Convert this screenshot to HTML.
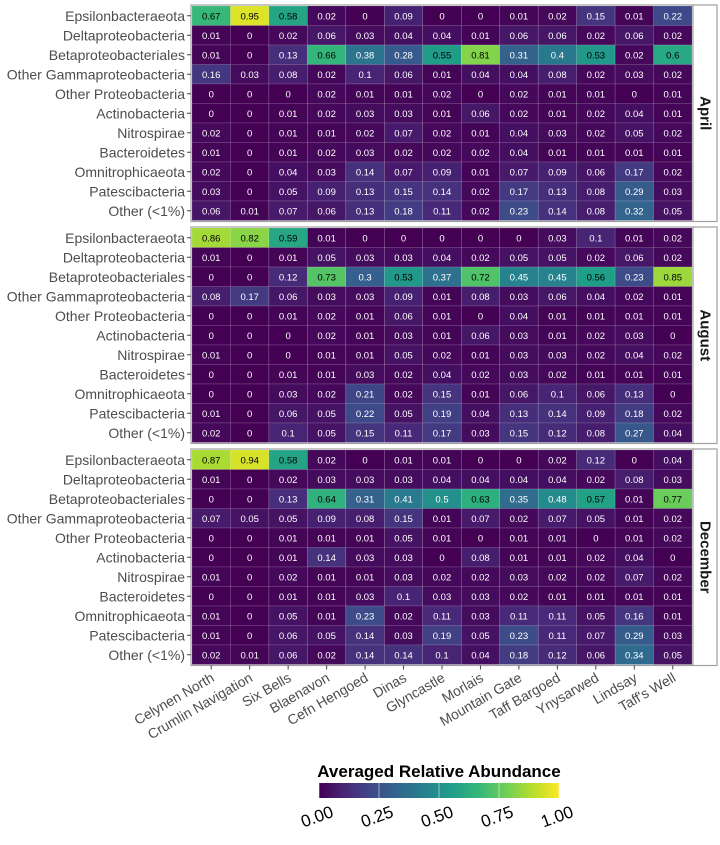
<!DOCTYPE html>
<html><head><meta charset="utf-8">
<style>
body{margin:0;background:#fff;width:720px;height:840px;overflow:hidden;font-family:"Liberation Sans",sans-serif}
</style></head>
<body>
<svg id="chart" width="720" height="840" xmlns="http://www.w3.org/2000/svg" font-family="Liberation Sans, sans-serif"></svg>
<script>
const sites=["Celynen North","Crumlin Navigation","Six Bells","Blaenavon","Cefn Hengoed","Dinas","Glyncastle","Morlais","Mountain Gate","Taff Bargoed","Ynysarwed","Lindsay","Taff's Well"];
const taxa=["Epsilonbacteraeota","Deltaproteobacteria","Betaproteobacteriales","Other Gammaproteobacteria","Other Proteobacteria","Actinobacteria","Nitrospirae","Bacteroidetes","Omnitrophicaeota","Patescibacteria","Other (<1%)"];
const months=["April","August","December"];
const aprilValues=[
[0.67,0.95,0.58,0.02,0,0.09,0,0,0.01,0.02,0.15,0.01,0.22],
[0.01,0,0.02,0.06,0.03,0.04,0.04,0.01,0.06,0.06,0.02,0.06,0.02],
[0.01,0,0.13,0.66,0.38,0.28,0.55,0.81,0.31,0.4,0.53,0.02,0.6],
[0.16,0.03,0.08,0.02,0.1,0.06,0.01,0.04,0.04,0.08,0.02,0.03,0.02],
[0,0,0,0.02,0.01,0.01,0.02,0,0.02,0.01,0.01,0,0.01],
[0,0,0.01,0.02,0.03,0.03,0.01,0.06,0.02,0.01,0.02,0.04,0.01],
[0.02,0,0.01,0.01,0.02,0.07,0.02,0.01,0.04,0.03,0.02,0.05,0.02],
[0.01,0,0.01,0.02,0.03,0.02,0.02,0.02,0.04,0.01,0.01,0.01,0.01],
[0.02,0,0.04,0.03,0.14,0.07,0.09,0.01,0.07,0.09,0.06,0.17,0.02],
[0.03,0,0.05,0.09,0.13,0.15,0.14,0.02,0.17,0.13,0.08,0.29,0.03],
[0.06,0.01,0.07,0.06,0.13,0.18,0.11,0.02,0.23,0.14,0.08,0.32,0.05]];
const augustValues=[
[0.86,0.82,0.59,0.01,0,0,0,0,0,0.03,0.1,0.01,0.02],
[0.01,0,0.01,0.05,0.03,0.03,0.04,0.02,0.05,0.05,0.02,0.06,0.02],
[0,0,0.12,0.73,0.3,0.53,0.37,0.72,0.45,0.45,0.56,0.23,0.85],
[0.08,0.17,0.06,0.03,0.03,0.09,0.01,0.08,0.03,0.06,0.04,0.02,0.01],
[0,0,0.01,0.02,0.01,0.06,0.01,0,0.04,0.01,0.01,0.01,0.01],
[0,0,0,0.02,0.01,0.03,0.01,0.06,0.03,0.01,0.02,0.03,0],
[0.01,0,0,0.01,0.01,0.05,0.02,0.01,0.03,0.03,0.02,0.04,0.02],
[0,0,0.01,0.01,0.03,0.02,0.04,0.02,0.03,0.02,0.01,0.01,0.01],
[0,0,0.03,0.02,0.21,0.02,0.15,0.01,0.06,0.1,0.06,0.13,0],
[0.01,0,0.06,0.05,0.22,0.05,0.19,0.04,0.13,0.14,0.09,0.18,0.02],
[0.02,0,0.1,0.05,0.15,0.11,0.17,0.03,0.15,0.12,0.08,0.27,0.04]];
const decemberValues=[
[0.87,0.94,0.58,0.02,0,0.01,0.01,0,0,0.02,0.12,0,0.04],
[0.01,0,0.02,0.03,0.03,0.03,0.04,0.04,0.04,0.04,0.02,0.08,0.03],
[0,0,0.13,0.64,0.31,0.41,0.5,0.63,0.35,0.48,0.57,0.01,0.77],
[0.07,0.05,0.05,0.09,0.08,0.15,0.01,0.07,0.02,0.07,0.05,0.01,0.02],
[0,0,0.01,0.01,0.01,0.05,0.01,0,0.01,0.01,0,0.01,0.02],
[0,0,0.01,0.14,0.03,0.03,0,0.08,0.01,0.01,0.02,0.04,0],
[0.01,0,0.02,0.01,0.01,0.03,0.02,0.02,0.03,0.02,0.02,0.07,0.02],
[0,0,0.01,0.01,0.03,0.1,0.03,0.03,0.02,0.01,0.01,0.01,0.01],
[0.01,0,0.05,0.01,0.23,0.02,0.11,0.03,0.11,0.11,0.05,0.16,0.01],
[0.01,0,0.06,0.05,0.14,0.03,0.19,0.05,0.23,0.11,0.07,0.29,0.03],
[0.02,0.01,0.06,0.02,0.14,0.14,0.1,0.04,0.18,0.12,0.06,0.34,0.05]];
const legendTicks=[0,0.25,0.5,0.75,1];
const legendTickLabels=["0.00","0.25","0.50","0.75","1.00"];

const NS="http://www.w3.org/2000/svg";
const svg=document.getElementById('chart');
function mk(tag,attrs,parent){const e=document.createElementNS(NS,tag);for(const k in attrs)e.setAttribute(k,attrs[k]);(parent||svg).appendChild(e);return e;}
const vir=["#440154","#482878","#3e4a89","#31688e","#26828e","#1f9e89","#35b779","#6ece58","#b5de2b","#fde725"];
function hex(h){return [1,3,5].map(i=>parseInt(h.substr(i,2),16));}
function viridis(t){t=Math.max(0,Math.min(1,t));const p=t*(vir.length-1);const i=Math.min(Math.floor(p),vir.length-2);const f=p-i;const a=hex(vir[i]),b=hex(vir[i+1]);return `rgb(${a.map((v,k)=>Math.round(v+(b[k]-v)*f)).join(',')})`;}

const plotL=192,plotR=692,colW=(plotR-plotL)/sites.length,rowH=19.5;
const panelTops=[6,228,450];
function xScale(i){return plotL+i*colW;}
function yScale(p,r){return panelTops[p]+r*rowH;}
const allData=[aprilValues,augustValues,decemberValues];

allData.forEach((data,p)=>{
  const g=mk('g',{});
  
  
  const top=panelTops[p],h=rowH*taxa.length;
  data.forEach((row,r)=>row.forEach((v,c)=>{
    const cell=mk('rect',{x:xScale(c),y:yScale(p,r),width:colW,height:rowH,fill:viridis(v),stroke:'rgba(255,255,255,0.25)','stroke-width':0.5},g);
    
    
    const t=mk('text',{x:xScale(c)+colW/2,y:yScale(p,r)+rowH/2+3.5,'text-anchor':'middle','font-size':9.5,fill:v>0.51?'#000':'#fff'},g);
    t.textContent=String(v);
    
    
  }));
  mk('rect',{x:plotL-1,y:top-1,width:plotR-plotL+2,height:h+2,fill:'none',stroke:'#a0a0a0','stroke-width':1.2},g);
  const strip=mk('rect',{x:plotR+1,y:top-1,width:24,height:h+2,fill:'#fff',stroke:'#a0a0a0','stroke-width':1.2},g);
  
  
  const st=mk('text',{x:plotR+13,y:top+h/2,'text-anchor':'middle','font-size':15,'font-weight':'bold',fill:'#1a1a1a',transform:`rotate(90 ${plotR+13} ${top+h/2})`,'dominant-baseline':'central'},g);
  st.textContent=months[p];
  
  
  taxa.forEach((tx,r)=>{
    const y=yScale(p,r)+rowH/2;
    mk('line',{x1:plotL-5,x2:plotL-1,y1:y,y2:y,stroke:'#444','stroke-width':1},g);
    const lt=mk('text',{x:plotL-7,y:y+5,'text-anchor':'end','font-size':14,fill:'#4d4d4d'},g);
    lt.textContent=tx;
    
    
  });
});
const lastBottom=panelTops[2]+rowH*taxa.length;
sites.forEach((s,c)=>{
  const x=xScale(c)+colW/2;
  mk('line',{x1:x,x2:x,y1:lastBottom+1,y2:lastBottom+5,stroke:'#444','stroke-width':1});
  const t=mk('text',{x:x+4,y:lastBottom+16,'text-anchor':'end','font-size':14,fill:'#4d4d4d',transform:`rotate(-30 ${x+4} ${lastBottom+16})`});
  t.textContent=s;
  
  
});
// legend
const lg=mk('g',{});


const defs=mk('defs',{});
const grad=mk('linearGradient',{id:'vg',x1:0,x2:1,y1:0,y2:0},defs);
vir.forEach((c,i)=>mk('stop',{offset:i/(vir.length-1),'stop-color':c},grad));
const lt=mk('text',{x:439,y:777,'text-anchor':'middle','font-size':17,'font-weight':'bold',fill:'#000'},lg);
lt.textContent='Averaged Relative Abundance';


const cbL=319,cbR=559;
mk('rect',{x:cbL,y:783,width:cbR-cbL,height:15,fill:'url(#vg)'},lg);
legendTicks.forEach((v,i)=>{
  const x=cbL+v*(cbR-cbL);
  mk('line',{x1:x,x2:x,y1:783,y2:798,stroke:'#fff','stroke-opacity':0.5,'stroke-width':1},lg);
  const t=mk('text',{x:x,y:822,'text-anchor':'middle','font-size':17,fill:'#000',transform:`rotate(-20 ${x} 822)`},lg);
  t.textContent=legendTickLabels[i];
  
  
});
</script>
</body></html>
